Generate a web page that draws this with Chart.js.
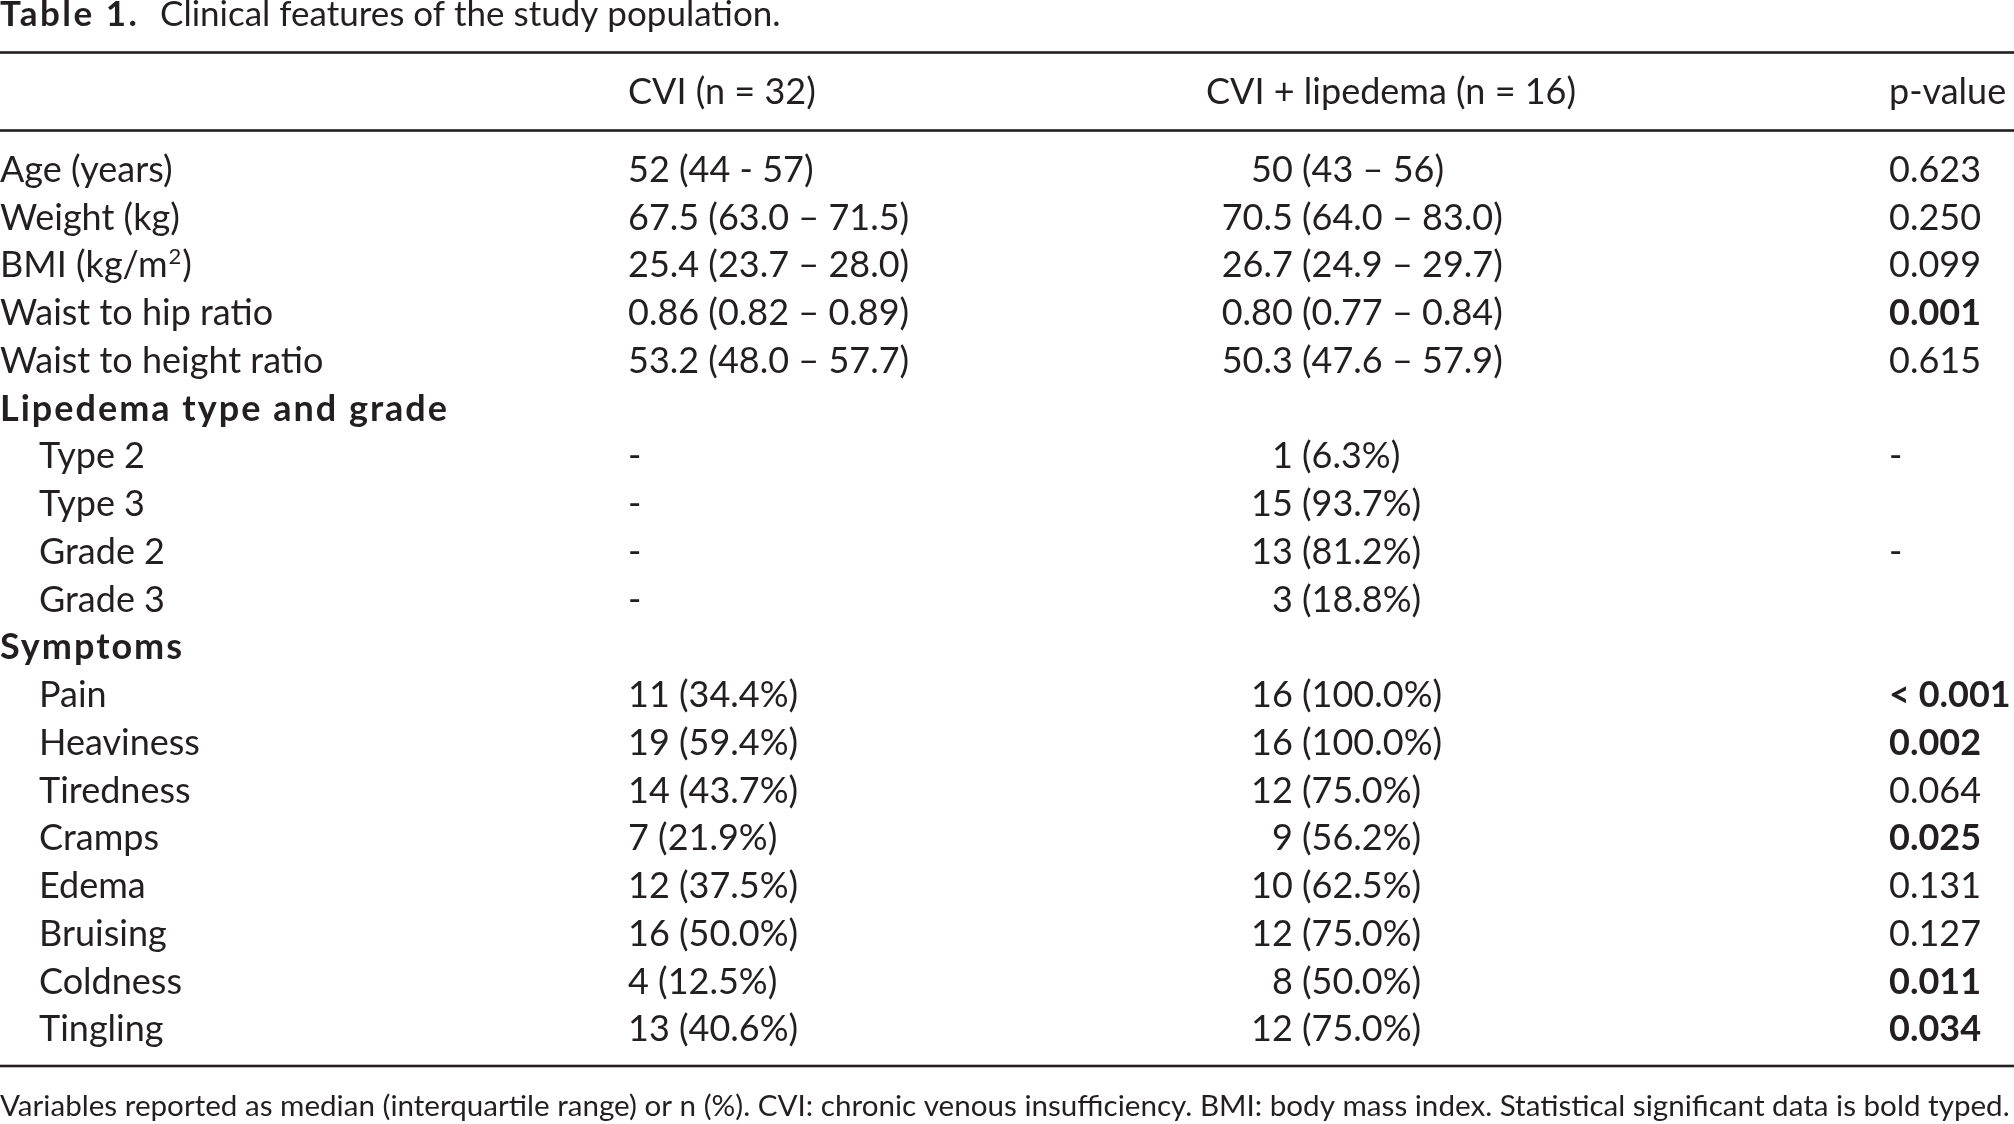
<!DOCTYPE html>
<html>
<head>
<meta charset="utf-8">
<script src="https://cdn.jsdelivr.net/npm/chart.js@4.4.1/dist/chart.umd.min.js"></script>
<style>
  html, body { margin: 0; padding: 0; background: #fff; }
  #wrap { width: 2014px; height: 1124px; position: relative; }
</style>
</head>
<body>
<div id="wrap"><canvas id="table-chart"></canvas></div>
<script>
// ===== data =====
const titleBold = "Table 1.";
const titleText = "Clinical features of the study population.";
const headers = ["CVI (n = 32)", "CVI + lipedema (n = 16)", "p-value"];

const rowLabels = [
  "Age (years)", "Weight (kg)", "BMI (kg/m²)", "Waist to hip ratio", "Waist to height ratio",
  "Lipedema type and grade", "Type 2", "Type 3", "Grade 2", "Grade 3",
  "Symptoms", "Pain", "Heaviness", "Tiredness", "Cramps", "Edema", "Bruising", "Coldness", "Tingling",
];
// 0 = normal, 1 = section heading (bold), 2 = indented
const rowKind = [0, 0, 0, 0, 0, 1, 2, 2, 2, 2, 1, 2, 2, 2, 2, 2, 2, 2, 2];

const cviValues = [
  "52 (44 - 57)", "67.5 (63.0 – 71.5)", "25.4 (23.7 – 28.0)", "0.86 (0.82 – 0.89)", "53.2 (48.0 – 57.7)",
  "", "-", "-", "-", "-",
  "", "11 (34.4%)", "19 (59.4%)", "14 (43.7%)", "7 (21.9%)", "12 (37.5%)", "16 (50.0%)", "4 (12.5%)", "13 (40.6%)",
];
const lipValues = [
  "50 (43 – 56)", "70.5 (64.0 – 83.0)", "26.7 (24.9 – 29.7)", "0.80 (0.77 – 0.84)", "50.3 (47.6 – 57.9)",
  "", "1 (6.3%)", "15 (93.7%)", "13 (81.2%)", "3 (18.8%)",
  "", "16 (100.0%)", "16 (100.0%)", "12 (75.0%)", "9 (56.2%)", "10 (62.5%)", "12 (75.0%)", "8 (50.0%)", "12 (75.0%)",
];
const pValues = [
  "0.623", "0.250", "0.099", "0.001", "0.615",
  "", "-", "", "-", "",
  "", "< 0.001", "0.002", "0.064", "0.025", "0.131", "0.127", "0.011", "0.034",
];
const pBold = [
  false, false, false, true, false,
  false, false, false, false, false,
  false, true, true, false, true, false, false, true, true,
];

const footnote = "Variables reported as median (interquartile range) or n (%). CVI: chronic venous insufficiency. BMI: body mass index. Statistical significant data is bold typed.";

// ===== layout =====
const FONT = "Lato";
const SIZE = 36;
const INK = "#231f20";
const colX = { label: 0, indent: 39, cvi: 628, lipHead: 1206, lipParen: 1302, p: 1889 };

// draw text, "²" gets drawn as a raised small 2
const drawText = (ctx, str, x, y) => {
  const k = str.indexOf("²");
  if (k < 0) {
    ctx.fillText(str, x, y);
    return;
  }
  const before = str.slice(0, k);
  const after = str.slice(k + 1);
  const base = ctx.font;
  ctx.fillText(before, x, y);
  let cx = x + ctx.measureText(before).width + 1;
  ctx.font = `normal ${Math.round(SIZE * 0.62)}px ${FONT}`;
  ctx.fillText("2", cx, y - SIZE * 0.38);
  cx += ctx.measureText("2").width + 1;
  ctx.font = base;
  ctx.fillText(after, cx, y);
};

const tablePlugin = {
  id: "tableText",
  afterDraw: (chart) => {
    const { ctx, scales } = chart;
    const y = scales.y;
    ctx.save();
    ctx.fillStyle = INK;
    ctx.textBaseline = "alphabetic";
    ctx.textAlign = "left";

    const font = (bold, size = SIZE) => `${bold ? "bold" : "normal"} ${size}px ${FONT}`;

    // title
    ctx.font = font(true, 35);
    ctx.letterSpacing = "2.5px";
    ctx.fillText(titleBold, 0, 26);
    ctx.letterSpacing = "0px";
    ctx.font = font(false, 35);
    ctx.fillText(titleText, 160, 26);

    // rules
    ctx.fillStyle = "#231f20";
    [52.5, 130.5, 1066].forEach((ry) => ctx.fillRect(0, ry - 1.3, chart.width, 2.6));
    ctx.fillStyle = INK;

    // header
    ctx.font = font(false);
    ctx.fillText(headers[0], colX.cvi, 104);
    ctx.fillText(headers[1], colX.lipHead, 104);
    ctx.fillText(headers[2], colX.p, 104);

    // body rows
    rowLabels.forEach((label, i) => {
      const py = y.getPixelForValue(i);
      const kind = rowKind[i];
      ctx.font = font(kind === 1);
      ctx.letterSpacing = kind === 1 ? "2px" : "0px";
      drawText(ctx, label, kind === 2 ? colX.indent : colX.label, py);
      ctx.letterSpacing = "0px";

      ctx.font = font(false);
      if (cviValues[i]) ctx.fillText(cviValues[i], colX.cvi, py);

      const lv = lipValues[i];
      if (lv) {
        const k = lv.indexOf(" (");
        const head = lv.slice(0, k);
        const tail = lv.slice(k + 1);
        const sp = ctx.measureText(" ").width;
        ctx.textAlign = "right";
        ctx.fillText(head, colX.lipParen - sp, py);
        ctx.textAlign = "left";
        ctx.fillText(tail, colX.lipParen, py);
      }

      if (pValues[i]) {
        ctx.font = font(pBold[i]);
        ctx.fillText(pValues[i], colX.p, py);
      }
    });

    // footnote
    ctx.font = font(false, 29.6);
    ctx.fillText(footnote, 0, 1116);
    ctx.restore();
  },
};

new Chart(document.getElementById("table-chart").getContext("2d"), {
  type: "scatter",
  data: { labels: rowLabels, datasets: [] },
  options: {
    responsive: true,
    maintainAspectRatio: false,
    animation: false,
    devicePixelRatio: 1,
    layout: { padding: { top: 182, bottom: 1124 - (182 + 18 * 47.74), left: 0, right: 0 } },
    plugins: { legend: { display: false }, tooltip: { enabled: false } },
    scales: {
      x: { type: "linear", min: 0, max: 1, display: false },
      y: { type: "category", labels: rowLabels, offset: false, display: false },
    },
  },
  plugins: [tablePlugin],
});
</script>
</body>
</html>
